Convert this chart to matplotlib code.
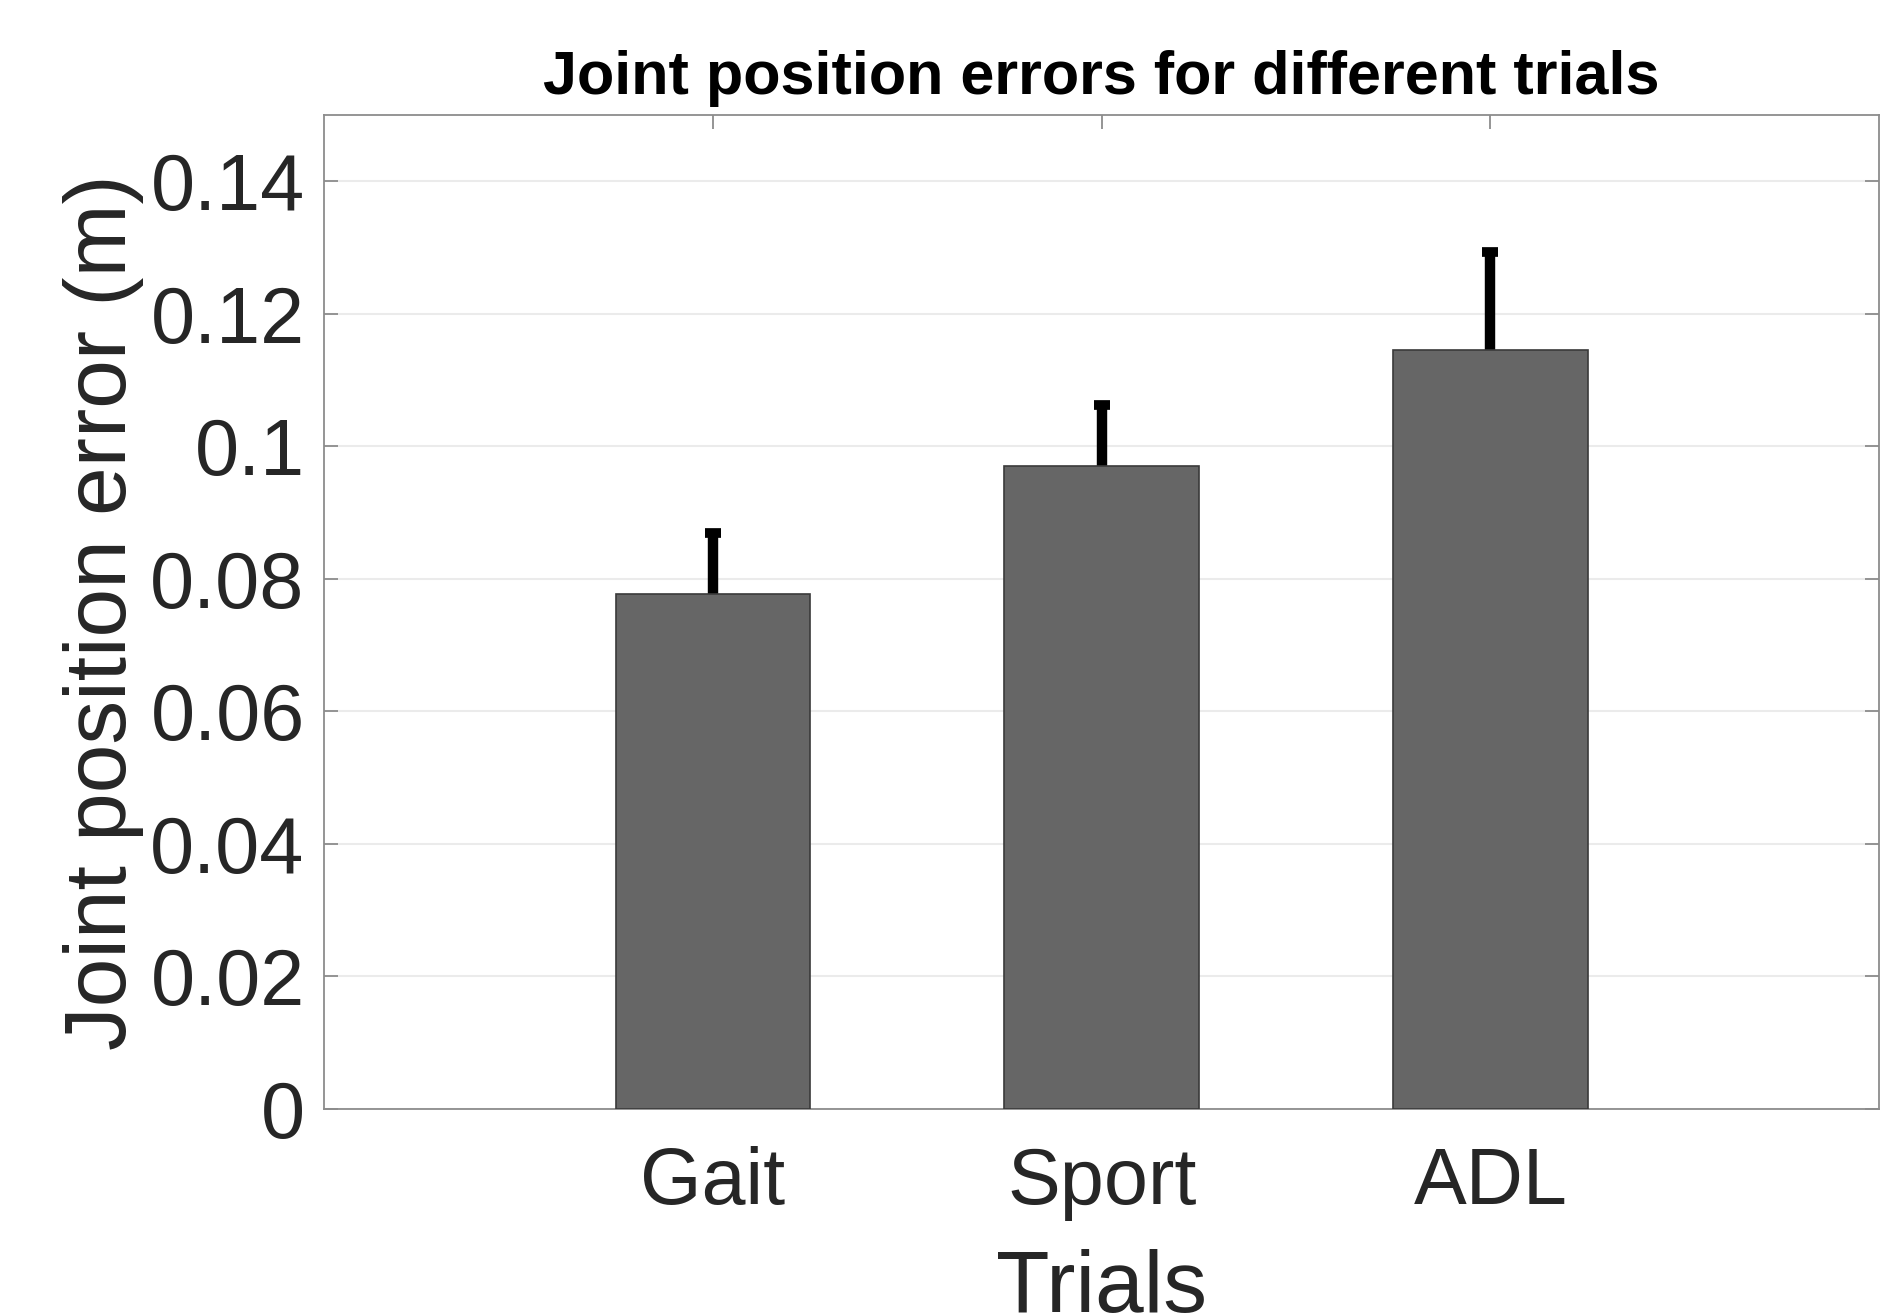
import matplotlib
matplotlib.use("Agg")
import matplotlib.pyplot as plt

trials = ["Gait", "Sport", "ADL"]
mean_err = [0.0777, 0.0971, 0.1145]
sd_err = [0.0093, 0.0092, 0.0148]

plt.rcParams['font.family'] = ['Liberation Sans', 'DejaVu Sans']

fig = plt.figure(figsize=(18.82, 13.14), dpi=100)
ax = fig.add_axes([0.1722, 0.1562, 0.8263, 0.7561])

x = range(1, len(trials) + 1)
ax.bar(x, mean_err, width=0.5, color='#666666', edgecolor='#3a3a3a',
       linewidth=1.2, zorder=3)
ax.errorbar(x, mean_err, yerr=sd_err, fmt='none', ecolor='black',
            elinewidth=7.5, capsize=5.5, capthick=7, zorder=2)

ax.set_xlim(0, 4)
ax.set_ylim(0, 0.15)
ax.set_xticks(list(x))
ax.set_xticklabels(trials)
yt = [0, 0.02, 0.04, 0.06, 0.08, 0.1, 0.12, 0.14]
ax.set_yticks(yt)
ax.set_yticklabels(['0', '0.02', '0.04', '0.06', '0.08', '0.1', '0.12', '0.14'])

ax.yaxis.grid(True, color='#ebebeb', linewidth=1.5, zorder=0)
ax.set_axisbelow(True)
for s in ax.spines.values():
    s.set_color('#8c8c8c')
    s.set_linewidth(1.3)
ax.tick_params(direction='in', length=10, width=1.3, color='#8c8c8c',
               top=True, right=True, labelsize=57, labelcolor='#262626')
ax.tick_params(axis='x', pad=27)
ax.tick_params(axis='y', pad=14)

ax.set_xlabel('Trials', fontsize=63, color='#262626', labelpad=20)
ax.set_ylabel('Joint position error (m)', fontsize=63, color='#262626')
ax.yaxis.set_label_coords(-0.116, 0.5)
ax.set_title('Joint position errors for different trials', fontsize=44,
             fontweight='bold', color='black', pad=15)

fig.savefig('out.png', dpi=100)
